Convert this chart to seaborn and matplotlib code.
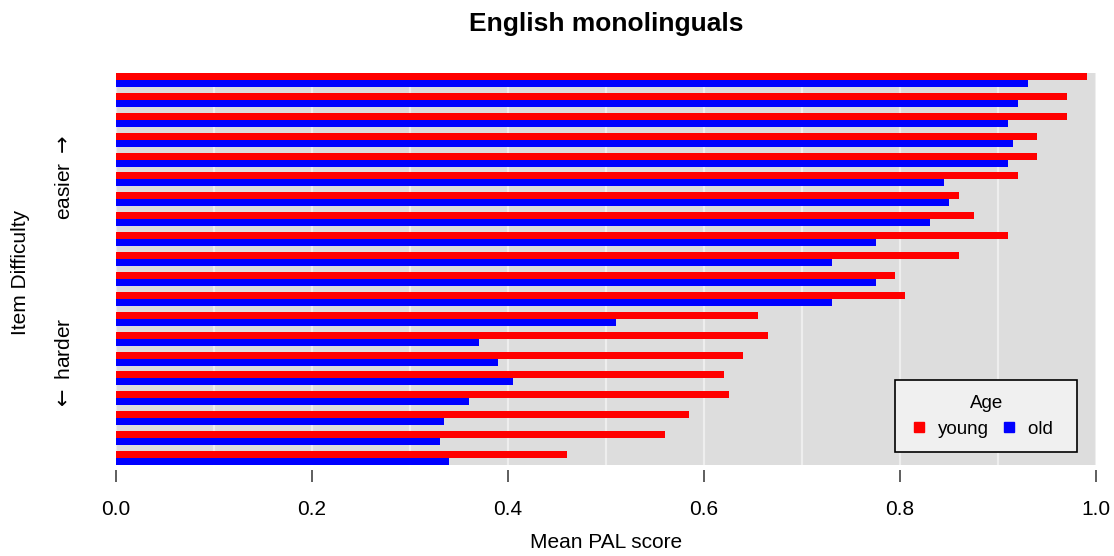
import matplotlib
matplotlib.use("Agg")
import matplotlib.pyplot as plt
from matplotlib.lines import Line2D
import seaborn as sns
import pandas as pd
import numpy as np

# ---- data (items ordered from easiest at top to hardest at bottom) ----
items = [str(i) for i in range(1, 21)]
young = [0.991, 0.970, 0.970, 0.940, 0.940, 0.920, 0.860, 0.875, 0.910, 0.860,
         0.795, 0.805, 0.655, 0.665, 0.640, 0.620, 0.625, 0.585, 0.560, 0.460]
old = [0.931, 0.920, 0.910, 0.915, 0.910, 0.845, 0.850, 0.831, 0.776, 0.731,
       0.776, 0.731, 0.510, 0.370, 0.390, 0.405, 0.360, 0.335, 0.331, 0.340]
ages = ["young", "old"]
xticks = [0.0, 0.2, 0.4, 0.6, 0.8, 1.0]
xticklabels = ["0.0", "0.2", "0.4", "0.6", "0.8", "1.0"]

df = pd.DataFrame({
    "item": items * 2,
    "age": ["young"] * len(items) + ["old"] * len(items),
    "score": young + old,
})

sns.set_theme(style="white")
plt.rcParams["font.family"] = ["Liberation Sans", "DejaVu Sans"]
plt.rcParams["text.color"] = "black"
plt.rcParams["axes.labelcolor"] = "black"
plt.rcParams["xtick.color"] = "black"
plt.rcParams["mathtext.fontset"] = "dejavusans"

W, H = 1114, 556
fig = plt.figure(figsize=(W / 100, H / 100), dpi=100)
ax = fig.add_axes([116 / W, 1 - 465 / H, (1096 - 116) / W, (465 - 73) / H])
ax.set_facecolor("#DDDDDD")

palette = {"young": "#FF0000", "old": "#0000FF"}
sns.barplot(data=df, x="score", y="item", hue="age", order=items, hue_order=ages,
            orient="h", palette=palette, width=0.7, dodge=True, saturation=1,
            errorbar=None, linewidth=0, ax=ax, legend=False, zorder=3)

for g in np.arange(0, 1.01, 0.1):
    ax.axvline(g, color="#EEEEEE", lw=1.6, zorder=1)

ax.set_xlim(0, 1)
ax.set_ylim(len(items) - 0.65, -0.35)
ax.set_yticks([])
ax.set_xticks(xticks)
ax.set_xticklabels(xticklabels)
ax.set_xlabel("Mean PAL score", fontsize=15, labelpad=10)
ax.set_ylabel("")
for s in ["top", "right", "left"]:
    ax.spines[s].set_visible(False)
ax.spines["bottom"].set_position(("outward", 3.6))
ax.spines["bottom"].set_visible(False)
ax.tick_params(axis="x", bottom=True, length=8.6, width=1.1, color="#333333",
               pad=13, labelsize=15, labelcolor="black")

ax.set_title("English monolinguals", fontsize=19, fontweight="bold", pad=30,
             color="black")

handles = [Line2D([0], [0], marker="s", linestyle="none", markersize=7,
                  markerfacecolor=palette[a], markeredgecolor=palette[a], label=lab)
           for a, lab in zip(ages, ["young", "old  "])]
leg = ax.legend(handles=handles, title="Age", ncol=2, loc="lower right",
                bbox_to_anchor=(0.981, 0.033), fontsize=13.5, title_fontsize=13.5,
                frameon=True, fancybox=False, framealpha=1, facecolor="#F0F0F0",
                edgecolor="black", handletextpad=0.5, columnspacing=0.6,
                borderpad=0.75, handlelength=1.0, borderaxespad=0)
leg.get_frame().set_linewidth(1.2)
leg.set_zorder(5)

fig.text(21 / W, 1 - 272 / H, "Item Difficulty", rotation=90, ha="center",
         va="center", fontsize=15)
fig.text(65 / W, 1 - 177 / H, r"easier $\rightarrow$", rotation=90, ha="center",
         va="center", fontsize=15)
fig.text(65 / W, 1 - 364 / H, r"$\leftarrow$ harder", rotation=90, ha="center",
         va="center", fontsize=15)

fig.savefig("out.png", dpi=100)
